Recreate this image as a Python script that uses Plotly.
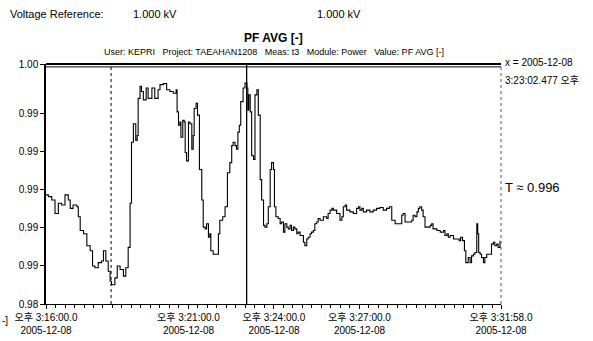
import datetime as dt
import plotly.graph_objects as go

# ---- data ----
t_sec = [0, 5, 12, 19, 26, 33, 40, 47, 51, 57, 65, 68, 72, 79, 86, 93, 98, 103, 110, 117,
         121, 126, 131, 135, 138, 145, 150, 156, 163, 168, 173, 177, 180, 184, 189, 192, 194, 198, 201, 205,
         211, 215, 223, 229, 236, 240, 247, 254, 261, 268, 274, 276, 279, 282, 284, 288, 291, 293, 296, 300,
         303, 307, 310, 312, 316, 319, 323, 328, 331, 335, 338, 342, 345, 347, 352, 359, 363, 366, 372, 377,
         382, 387, 391, 394, 398, 401, 404, 407, 410, 415, 419, 423, 425, 427, 430, 433, 437, 440, 444, 447,
         451, 454, 458, 461, 465, 468, 472, 475, 479, 481, 484, 489, 493, 496, 500, 503, 507, 510, 514, 517,
         521, 524, 528, 531, 535, 538, 542, 545, 549, 552, 556, 559, 563, 566, 570, 573, 577, 584, 591, 594,
         598, 602, 605, 612, 619, 623, 626, 630, 633, 640, 647, 654, 658, 661, 665, 668, 675, 682, 689, 696,
         703, 710, 717, 723, 728, 735, 742, 749, 752, 756, 763, 770, 773, 777, 781, 784, 787, 791, 794, 798,
         805, 809, 812, 815, 823, 830, 837, 840, 844, 847, 851, 858, 865, 870, 873, 877, 881, 884, 889, 893,
         896, 900, 903, 907, 909, 911, 914, 917, 921, 924, 928, 935, 938, 942, 945, 949, 952, 956]
pf_avg = [0.98972, 0.98963, 0.98945, 0.98874, 0.98928, 0.98919, 0.98972, 0.98945, 0.98901, 0.98919,
          0.98910, 0.98857, 0.98785, 0.98768, 0.98705, 0.98679, 0.98599, 0.98590, 0.98617, 0.98625,
          0.98679, 0.98625, 0.98572, 0.98519, 0.98501, 0.98537, 0.98599, 0.98581, 0.98546, 0.98590,
          0.98697, 0.98928, 0.99248, 0.99345, 0.99257, 0.99283, 0.99478, 0.99541, 0.99514, 0.99470,
          0.99532, 0.99478, 0.99532, 0.99478, 0.99523, 0.99550, 0.99555, 0.99523, 0.99514, 0.99505,
          0.99523, 0.99407, 0.99337, 0.99354, 0.99274, 0.99363, 0.99354, 0.99194, 0.99150, 0.99354,
          0.99345, 0.99212, 0.99283, 0.99425, 0.99452, 0.99390, 0.99105, 0.98945, 0.98803, 0.98794,
          0.98821, 0.98750, 0.98768, 0.98679, 0.98661, 0.98661, 0.98768, 0.98839, 0.98857, 0.98910,
          0.99088, 0.99141, 0.99230, 0.99248, 0.99230, 0.99212, 0.99301, 0.99337, 0.99461, 0.99532,
          0.99558, 0.99532, 0.99416, 0.99496, 0.99407, 0.99177, 0.99158, 0.99496, 0.99523, 0.99390,
          0.99052, 0.98945, 0.98812, 0.98803, 0.98821, 0.98910, 0.99105, 0.99141, 0.99105, 0.98910,
          0.98857, 0.98848, 0.98821, 0.98830, 0.98777, 0.98821, 0.98803, 0.98794, 0.98812, 0.98785,
          0.98803, 0.98794, 0.98768, 0.98777, 0.98759, 0.98759, 0.98724, 0.98705, 0.98741, 0.98750,
          0.98768, 0.98777, 0.98785, 0.98821, 0.98830, 0.98848, 0.98839, 0.98857, 0.98848, 0.98874,
          0.98892, 0.98901, 0.98892, 0.98874, 0.98839, 0.98857, 0.98910, 0.98919, 0.98892, 0.98883,
          0.98874, 0.98901, 0.98910, 0.98892, 0.98901, 0.98883, 0.98892, 0.98883, 0.98892, 0.98901,
          0.98906, 0.98892, 0.98901, 0.98910, 0.98839, 0.98821, 0.98821, 0.98865, 0.98874, 0.98830,
          0.98830, 0.98839, 0.98865, 0.98857, 0.98883, 0.98901, 0.98910, 0.98892, 0.98857, 0.98803,
          0.98803, 0.98812, 0.98821, 0.98794, 0.98785, 0.98777, 0.98785, 0.98759, 0.98768, 0.98750,
          0.98759, 0.98741, 0.98741, 0.98732, 0.98750, 0.98732, 0.98679, 0.98617, 0.98644, 0.98617,
          0.98652, 0.98661, 0.98670, 0.98821, 0.98768, 0.98670, 0.98661, 0.98644, 0.98617, 0.98644,
          0.98661, 0.98661, 0.98714, 0.98724, 0.98705, 0.98714, 0.98697, 0.98732]

start_time = "2005-12-08 15:16:00"
end_time = "2005-12-08 15:31:58"
marker_time = "2005-12-08 15:18:17"
cursor_time = "2005-12-08 15:23:02.477"

y_min, y_max = 0.984, 0.99658
y_tickvals = [0.984, 0.986, 0.988, 0.990, 0.992, 0.994, 0.99658]
y_ticktext = ["0.98", "0.99", "0.99", "0.99", "0.99", "0.99", "1.00"]

x_tickvals = ["2005-12-08 15:16:00", "2005-12-08 15:21:00", "2005-12-08 15:24:00",
              "2005-12-08 15:27:00", "2005-12-08 15:31:58"]
x_ticktext = ["오후 3:16:00.0<br>2005-12-08", "오후 3:21:00.0<br>2005-12-08",
              "오후 3:24:00.0<br>2005-12-08", "오후 3:27:00.0<br>2005-12-08",
              "오후 3:31:58.0<br>2005-12-08"]

base = dt.datetime(2005, 12, 8, 15, 16, 0)
times = [base + dt.timedelta(seconds=s) for s in t_sec]

FONT = "Liberation Sans, Arial, Noto Sans CJK KR, sans-serif"

fig = go.Figure()
fig.add_trace(go.Scatter(x=times, y=pf_avg, mode="lines", line=dict(color="black", width=1.1, shape="hv"),
                         hoverinfo="skip", showlegend=False))

# top double border line
fig.add_shape(type="line", xref="paper", yref="paper", x0=0, x1=1.0, y0=1, y1=1,
              line=dict(color="black", width=2))
fig.add_shape(type="line", xref="paper", yref="paper", x0=0, x1=1.0, y0=0.988, y1=0.988,
              line=dict(color="black", width=1))
# dashed marker and cursor lines
fig.add_shape(type="line", xref="x", yref="paper", x0=marker_time, x1=marker_time, y0=0, y1=1,
              line=dict(color="black", width=1, dash="dot"))
fig.add_shape(type="line", xref="x", yref="paper", x0=cursor_time, x1=cursor_time, y0=0, y1=1,
              line=dict(color="black", width=1.3))
# right dotted border
fig.add_shape(type="line", xref="paper", yref="paper", x0=1, x1=1, y0=0, y1=1,
              line=dict(color="#555", width=1, dash="dot"))

fig.update_layout(
    width=593, height=341,
    margin=dict(l=46, r=92, t=64, b=37),
    paper_bgcolor="white", plot_bgcolor="white",
    font=dict(family=FONT, size=10, color="black"),
    xaxis=dict(range=[start_time, end_time], tickmode="array", tickvals=x_tickvals, ticktext=x_ticktext,
               showgrid=False, zeroline=False, showline=True, linecolor="black", linewidth=1,
               ticks="outside", ticklen=4, tickcolor="black", tickfont=dict(size=10, family=FONT),
               minor=dict(ticks="outside", ticklen=3, dtick=20000, tickcolor="black"),
               mirror=False, automargin=False),
    yaxis=dict(range=[y_min, y_max], tickmode="array", tickvals=y_tickvals, ticktext=y_ticktext,
               showgrid=False, zeroline=False, showline=True, linecolor="black", linewidth=1.5,
               ticks="outside", ticklen=4, tickcolor="black", tickfont=dict(size=10, family=FONT),
               automargin=False),
)

anns = [
    dict(text="Voltage Reference:", x=8, y=14),
    dict(text="1.000 kV", x=131, y=14),
    dict(text="1.000 kV", x=315, y=14),
]
for a in anns:
    fig.add_annotation(text=a["text"], xref="paper", yref="paper",
                       x=(a["x"] - 46) / 455, y=1 + (64 - a["y"]) / 240,
                       xanchor="left", yanchor="middle", showarrow=False,
                       font=dict(size=11, family=FONT))
fig.add_annotation(text="<b>PF AVG [-]</b>", xref="paper", yref="paper", x=(273 - 46) / 455,
                   y=1 + (64 - 38) / 240, xanchor="center", yanchor="middle", showarrow=False,
                   font=dict(size=12, family=FONT))
fig.add_annotation(text="User: KEPRI   Project: TAEAHAN1208   Meas: t3   Module: Power   Value: PF AVG [-]",
                   xref="paper", yref="paper", x=(274 - 46) / 455, y=1 + (64 - 52) / 240,
                   xanchor="center", yanchor="middle", showarrow=False, font=dict(size=9, family=FONT))
fig.add_annotation(text="x = 2005-12-08", xref="paper", yref="paper", x=1.005, y=1 + (64 - 62) / 240,
                   xanchor="left", yanchor="middle", showarrow=False, font=dict(size=10, family=FONT))
fig.add_annotation(text="3:23:02.477 오후", xref="paper", yref="paper", x=1.005, y=1 + (64 - 80) / 240,
                   xanchor="left", yanchor="middle", showarrow=False, font=dict(size=10, family=FONT))
fig.add_annotation(text="T ≈ 0.996", xref="paper", yref="paper", x=1.005, y=1 + (64 - 187) / 240,
                   xanchor="left", yanchor="middle", showarrow=False, font=dict(size=13, family=FONT))
fig.add_annotation(text="-]", xref="paper", yref="paper", x=-46 / 455, y=1 + (64 - 320) / 240,
                   xanchor="left", yanchor="middle", showarrow=False, font=dict(size=10, family=FONT))

fig.write_html("out.html", config={"displayModeBar": False},
               post_script="document.body.style.margin='0';document.body.style.overflow='hidden';")
